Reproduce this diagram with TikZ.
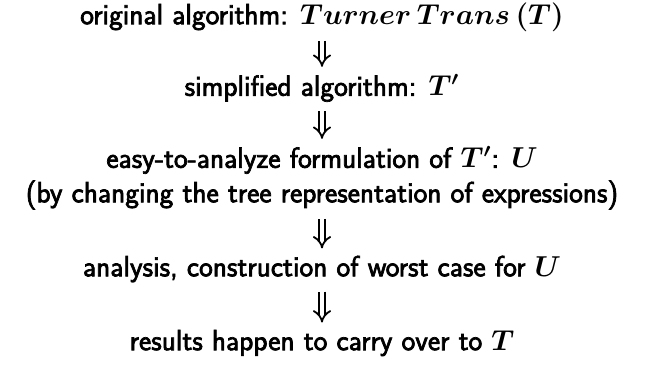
\documentclass[tikz,border=0pt]{standalone}
\usepackage{fontspec}
\newfontfamily\stagefont[FakeBold=2.4]{Latin Modern Sans}
\usetikzlibrary{positioning,arrows.meta}

\begin{document}
\begin{tikzpicture}[x=0.5pt,y=-0.5pt,
      stage/.style={inner sep=1pt,align=center,font=\fontsize{14.6}{17}\selectfont\stagefont\boldmath},
      implies/.style={double,double distance=2.2pt,line width=0.9pt,-{Implies},shorten <=3.5pt,shorten >=2.5pt}
    ]
      \useasboundingbox (0,0) rectangle (645,371);
      \node[stage] (orig) at (322,17) {original algorithm: $Turner\,Trans\,(T)$};
      \node[stage] (simp) at (322,88) {simplified algorithm: $T'$};
      \node[stage] (easy) at (322,160) {easy-to-analyze formulation of $T'$: $U$};
      \node[stage] (tree) at (322,195) {(by changing the tree representation of expressions)};
      \node[stage] (anal) at (322,269) {analysis, construction of worst case for $U$};
      \node[stage] (res) at (322,343) {results happen to carry over to $T$};
      \draw[implies] (orig) -- (simp);
      \draw[implies] (simp) -- (easy);
      \draw[implies] (tree) -- (anal);
      \draw[implies] (anal) -- (res);
    \end{tikzpicture}
\end{document}
